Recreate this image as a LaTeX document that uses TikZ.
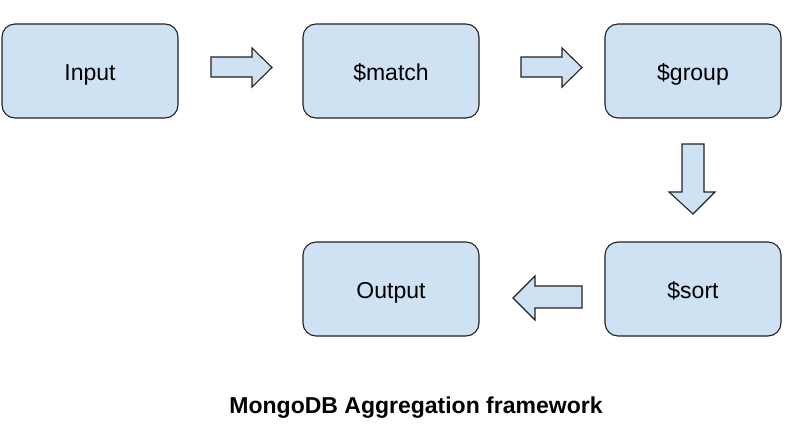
\documentclass[tikz,border=0pt]{standalone}
\usepackage{fontspec}
\setmainfont{Liberation Sans}
\definecolor{boxfill}{HTML}{CFE2F3}
\definecolor{boxline}{HTML}{222222}
\begin{document}
\begin{tikzpicture}[x=1pt,y=-1pt,
  stage/.style={draw=boxline,line width=1.1pt,fill=boxfill,rounded corners=13pt,
    minimum width=176pt,minimum height=94pt,inner sep=0pt,text height=21pt,text depth=3pt,
    font=\fontsize{23}{26}\selectfont},
  blockarrow/.style={draw=boxline,line width=1.1pt,fill=boxfill,line join=miter}]
\useasboundingbox (0,0) rectangle (790,442);
\node[stage] (input) at (90,71) {Input};
\node[stage] (match) at (391,71) {\$match};
\node[stage] (group) at (693,71) {\$group};
\node[stage] (sort) at (693,289) {\$sort};
\node[stage] (output) at (391,289) {Output};
% right arrows
\draw[blockarrow] (211,57) -- (252,57) -- (252,48) -- (272,67.5) -- (252,87) -- (252,77) -- (211,77) -- cycle;
\draw[blockarrow] (521,57) -- (562,57) -- (562,48) -- (582,67.5) -- (562,87) -- (562,77) -- (521,77) -- cycle;
% down arrow
\draw[blockarrow] (682,144) -- (704,144) -- (704,192) -- (715,192) -- (693,214) -- (669,192) -- (682,192) -- cycle;
% left arrow
\draw[blockarrow] (582,286) -- (535,286) -- (535,276) -- (513,298) -- (535,320) -- (535,308) -- (582,308) -- cycle;
\node[font=\bfseries\fontsize{23}{26}\selectfont] (title) at (416,408) {MongoDB Aggregation framework};
\end{tikzpicture}
\end{document}
